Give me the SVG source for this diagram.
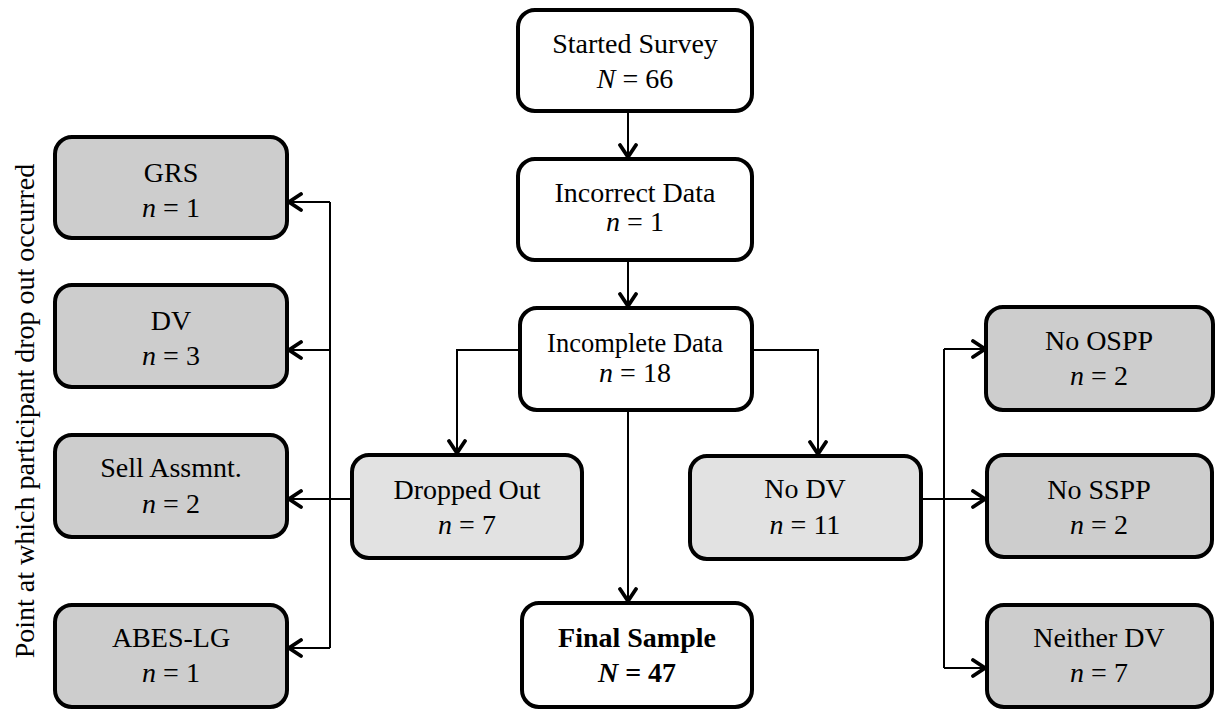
<svg xmlns="http://www.w3.org/2000/svg" width="1218" height="714" viewBox="0 0 1218 714">
<style>
.box{stroke:#000;stroke-width:4}
.w{fill:#fff}
.g1{fill:#e2e2e2}
.g2{fill:#cdcdcd}
text{font-family:"Liberation Serif","Times New Roman",serif;font-size:28px;fill:#000;text-anchor:middle}
.i{font-style:italic}
.b{font-weight:bold}
.c{fill:none;stroke:#000;stroke-width:2}
.a{marker-end:url(#ah)}
</style>
<defs>
<marker id="ah" viewBox="0 0 16 20" refX="14" refY="10" markerWidth="16" markerHeight="20" markerUnits="userSpaceOnUse" orient="auto">
<path d="M2,2 L14,10 L2,18" fill="none" stroke="#000" stroke-width="3.8" stroke-linecap="round" stroke-linejoin="miter"/>
</marker>
</defs>
<text transform="translate(34,411) rotate(-90)">Point at which participant drop out occurred</text>
<g id="connectors">
<path class="c a" d="M628,112 V157"/>
<path class="c a" d="M628,261 V306"/>
<path class="c a" d="M520,350 H457 V453"/>
<path class="c a" d="M752,350 H818 V454"/>
<path class="c a" d="M628,411 V601"/>
<path class="c a" d="M352,499 H289"/>
<path class="c" d="M330,202 V648"/>
<path class="c a" d="M330,202 H289"/>
<path class="c a" d="M330,350 H289"/>
<path class="c a" d="M330,648 H289"/>
<path class="c a" d="M921,499 H985"/>
<path class="c" d="M944,349 V668"/>
<path class="c a" d="M944,349 H985"/>
<path class="c a" d="M944,668 H985"/>
</g>
<g id="started"><rect class="box w" x="518" y="10" width="234" height="101" rx="17"/><text x="635" y="53">Started Survey</text><text x="635" y="88"><tspan class="i">N</tspan> = 66</text></g>
<g id="incorrect"><rect class="box w" x="518" y="159" width="234" height="101" rx="17"/><text x="635" y="202">Incorrect Data</text><text x="635" y="231"><tspan class="i">n</tspan> = 1</text></g>
<g id="incomplete"><rect class="box w" x="520" y="308" width="232" height="102" rx="17"/><text x="635" y="352" style="font-size:26.5px">Incomplete Data</text><text x="635" y="382"><tspan class="i">n</tspan> = 18</text></g>
<g id="dropped"><rect class="box g1" x="352" y="455" width="230" height="103" rx="17"/><text x="467" y="499">Dropped Out</text><text x="467" y="534"><tspan class="i">n</tspan> = 7</text></g>
<g id="nodv"><rect class="box g1" x="690" y="456" width="231" height="103" rx="17"/><text x="805" y="498">No DV</text><text x="805" y="534"><tspan class="i">n</tspan> = 11</text></g>
<g id="final"><rect class="box w" x="522" y="603" width="230" height="104" rx="17"/><text class="b" x="637" y="647">Final Sample</text><text class="b" x="637" y="682"><tspan class="i">N</tspan> = 47</text></g>
<g id="grs"><rect class="box g2" x="55" y="137" width="232" height="101" rx="17"/><text x="171" y="182">GRS</text><text x="171" y="217"><tspan class="i">n</tspan> = 1</text></g>
<g id="dv"><rect class="box g2" x="55" y="285" width="232" height="102" rx="17"/><text x="171" y="330">DV</text><text x="171" y="365"><tspan class="i">n</tspan> = 3</text></g>
<g id="sell"><rect class="box g2" x="55" y="435" width="232" height="102" rx="17"/><text x="171" y="477">Sell Assmnt.</text><text x="171" y="513"><tspan class="i">n</tspan> = 2</text></g>
<g id="abes"><rect class="box g2" x="55" y="605" width="232" height="102" rx="17"/><text x="171" y="647">ABES-LG</text><text x="171" y="682"><tspan class="i">n</tspan> = 1</text></g>
<g id="noospp"><rect class="box g2" x="986" y="307" width="227" height="103" rx="17"/><text x="1099" y="350">No OSPP</text><text x="1099" y="385"><tspan class="i">n</tspan> = 2</text></g>
<g id="nosspp"><rect class="box g2" x="987" y="455" width="225" height="102" rx="17"/><text x="1099" y="499">No SSPP</text><text x="1099" y="534"><tspan class="i">n</tspan> = 2</text></g>
<g id="neither"><rect class="box g2" x="987" y="605" width="225" height="102" rx="17"/><text x="1099" y="647">Neither DV</text><text x="1099" y="682"><tspan class="i">n</tspan> = 7</text></g>
</svg>
